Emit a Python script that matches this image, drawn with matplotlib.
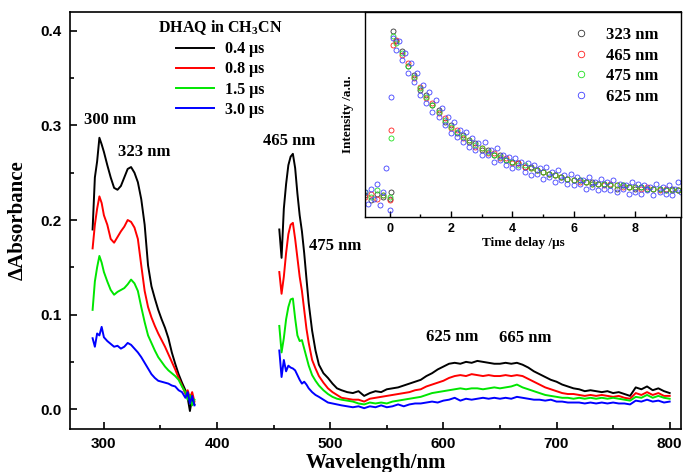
import numpy as np
import matplotlib
matplotlib.use('Agg')
import matplotlib.pyplot as plt
from matplotlib import rc, rcParams
from matplotlib.ticker import MultipleLocator

# Transient absorption of DHAQ in CH3CN with decay-trace inset.

# Plot setup {{{
rcParams['font.family'] = 'Liberation Serif'
rcParams['font.weight'] = 'bold'
rcParams['mathtext.fontset'] = 'custom'
rcParams['mathtext.rm'] = 'Liberation Serif:bold'
rcParams['mathtext.bf'] = 'Liberation Serif:bold'
rcParams['mathtext.it'] = 'Liberation Serif:bold'
rc('axes', linewidth=1.2)
#}}}

# Main spectra {{{
uv_wl = [290, 292, 294, 296, 298, 300, 303, 306, 309, 312, 315, 318, 321, 324, 327,
         330, 333, 336, 339, 342, 345, 348, 351, 354, 357, 360, 363, 366, 369, 372,
         374, 376, 378, 380]
vis_wl = [455, 457, 459, 461, 463, 465, 467, 469, 471, 473, 475, 477, 479, 481, 484,
          487, 490, 494, 498, 502, 506, 510,
          515, 520, 525, 530, 535, 540, 545, 550, 555, 560,
          565, 570, 575, 580, 585, 590, 595, 600, 605, 610,
          615, 620, 625, 630, 635, 640, 645, 650, 655, 660,
          665, 670, 675, 680, 685, 690, 695, 700, 705, 710,
          715, 720, 725, 730, 735, 740, 745, 750, 755, 760,
          765, 770, 775, 780, 785, 790, 795, 800]

uv_04 = [0.190, 0.245, 0.262, 0.287, 0.280, 0.272, 0.258, 0.245, 0.234, 0.232, 0.236,
         0.245, 0.254, 0.256, 0.250, 0.240, 0.222, 0.195, 0.152, 0.130, 0.117, 0.105,
         0.095, 0.086, 0.075, 0.060, 0.048, 0.037, 0.028, 0.020, 0.012, -0.002, 0.012, 0.005]
uv_08 = [0.170, 0.195, 0.212, 0.225, 0.218, 0.205, 0.195, 0.180, 0.176, 0.182, 0.188,
         0.193, 0.200, 0.198, 0.192, 0.180, 0.152, 0.125, 0.108, 0.097, 0.088, 0.080,
         0.073, 0.066, 0.058, 0.050, 0.042, 0.033, 0.025, 0.016, 0.020, 0.012, 0.018, 0.008]
uv_15 = [0.105, 0.135, 0.150, 0.162, 0.155, 0.145, 0.135, 0.126, 0.121, 0.124, 0.126,
         0.128, 0.132, 0.137, 0.133, 0.125, 0.108, 0.092, 0.078, 0.070, 0.062, 0.055,
         0.050, 0.045, 0.041, 0.038, 0.035, 0.031, 0.024, 0.018, 0.010, 0.015, 0.004, 0.010]
uv_30 = [0.075, 0.066, 0.080, 0.078, 0.087, 0.076, 0.072, 0.069, 0.066, 0.067, 0.064,
         0.066, 0.070, 0.068, 0.064, 0.060, 0.055, 0.049, 0.043, 0.037, 0.033, 0.030,
         0.029, 0.028, 0.027, 0.025, 0.024, 0.020, 0.018, 0.012, 0.018, 0.006, 0.014, 0.004]

vis_04 = [0.190, 0.160, 0.212, 0.238, 0.258, 0.267, 0.270, 0.255, 0.228, 0.205, 0.188,
          0.165, 0.138, 0.112, 0.083, 0.062, 0.047, 0.038, 0.033, 0.027, 0.022, 0.020,
          0.018, 0.017, 0.019, 0.014, 0.017, 0.019, 0.018, 0.021, 0.022, 0.023,
          0.025, 0.027, 0.029, 0.031, 0.035, 0.038, 0.042, 0.045, 0.048, 0.049,
          0.048, 0.050, 0.049, 0.051, 0.050, 0.049, 0.048, 0.048, 0.049, 0.048,
          0.049, 0.047, 0.044, 0.040, 0.037, 0.034, 0.031, 0.029, 0.026, 0.024,
          0.022, 0.021, 0.019, 0.020, 0.019, 0.018, 0.019, 0.017, 0.018, 0.016,
          0.014, 0.023, 0.021, 0.024, 0.020, 0.022, 0.019, 0.017]
vis_08 = [0.145, 0.122, 0.140, 0.165, 0.185, 0.195, 0.197, 0.180, 0.160, 0.140, 0.125,
          0.105, 0.085, 0.070, 0.052, 0.043, 0.035, 0.028, 0.022, 0.018, 0.015, 0.012,
          0.011, 0.010, 0.010, 0.008, 0.011, 0.012, 0.013, 0.014, 0.015, 0.016,
          0.017, 0.018, 0.020, 0.021, 0.024, 0.026, 0.028, 0.030, 0.033, 0.035,
          0.036, 0.035, 0.037, 0.036, 0.035, 0.036, 0.035, 0.035, 0.036, 0.035,
          0.036, 0.035, 0.032, 0.029, 0.026, 0.023, 0.021, 0.019, 0.017, 0.016,
          0.016, 0.015, 0.014, 0.015, 0.014, 0.015, 0.014, 0.013, 0.014, 0.012,
          0.011, 0.017, 0.015, 0.018, 0.015, 0.017, 0.014, 0.014]
vis_15 = [0.088, 0.060, 0.075, 0.095, 0.108, 0.116, 0.117, 0.096, 0.078, 0.072, 0.073,
          0.064, 0.055, 0.046, 0.036, 0.030, 0.025, 0.020, 0.016, 0.013, 0.011, 0.010,
          0.009, 0.008, 0.006, 0.005, 0.007, 0.006, 0.007, 0.006, 0.008, 0.009,
          0.010, 0.011, 0.012, 0.013, 0.015, 0.017, 0.018, 0.019, 0.020, 0.021,
          0.022, 0.021, 0.022, 0.022, 0.021, 0.022, 0.023, 0.022, 0.023, 0.024,
          0.026, 0.023, 0.021, 0.019, 0.017, 0.015, 0.014, 0.013, 0.012, 0.012,
          0.011, 0.012, 0.011, 0.012, 0.011, 0.012, 0.011, 0.012, 0.011, 0.010,
          0.009, 0.013, 0.012, 0.015, 0.012, 0.014, 0.012, 0.011]
vis_30 = [0.062, 0.034, 0.052, 0.040, 0.046, 0.044, 0.043, 0.041, 0.036, 0.031, 0.027,
          0.029, 0.026, 0.022, 0.018, 0.015, 0.013, 0.010, 0.007, 0.006, 0.005, 0.004,
          0.003, 0.002, 0.003, 0.001, 0.003, 0.002, 0.004, 0.002, 0.003, 0.005,
          0.003, 0.005, 0.006, 0.006, 0.007, 0.008, 0.007, 0.009, 0.010, 0.012,
          0.009, 0.011, 0.010, 0.011, 0.012, 0.011, 0.012, 0.011, 0.012, 0.011,
          0.013, 0.012, 0.011, 0.010, 0.010, 0.009, 0.010, 0.008, 0.008, 0.007,
          0.007, 0.007, 0.006, 0.007, 0.006, 0.007, 0.006, 0.007, 0.006, 0.006,
          0.005, 0.009, 0.008, 0.010, 0.008, 0.009, 0.007, 0.008]

delays = ['0.4 μs', '0.8 μs', '1.5 μs', '3.0 μs']
colors = ['black', '#ff0000', '#00e600', '#0000ff']
uv_all = [uv_04, uv_08, uv_15, uv_30]
vis_all = [vis_04, vis_08, vis_15, vis_30]

peak_labels = ['300 nm', '323 nm', '465 nm', '475 nm', '625 nm', '665 nm']
peak_x = [305, 336, 464, 504, 608, 672]
peak_y = [0.306, 0.272, 0.284, 0.173, 0.076, 0.075]
#}}}

# Inset kinetics {{{
blue_t = [-0.8, -0.7, -0.6, -0.5, -0.4, -0.3, -0.2, -0.1, 0.0, 0.05,
          0.1, 0.2, 0.3, 0.4, 0.5, 0.6, 0.7, 0.8, 0.9, 1.0,
          1.1, 1.2, 1.3, 1.4, 1.5, 1.6, 1.7, 1.8, 1.9, 2.0,
          2.1, 2.2, 2.3, 2.4, 2.5, 2.6, 2.7, 2.8, 2.9, 3.0,
          3.1, 3.2, 3.3, 3.4, 3.5, 3.6, 3.7, 3.8, 3.9, 4.0,
          4.1, 4.2, 4.3, 4.4, 4.5, 4.6, 4.7, 4.8, 4.9, 5.0,
          5.1, 5.2, 5.3, 5.4, 5.5, 5.6, 5.7, 5.8, 5.9, 6.0,
          6.1, 6.2, 6.3, 6.4, 6.5, 6.6, 6.7, 6.8, 6.9, 7.0,
          7.1, 7.2, 7.3, 7.4, 7.5, 7.6, 7.7, 7.8, 7.9, 8.0,
          8.1, 8.2, 8.3, 8.4, 8.5, 8.6, 8.7, 8.8, 8.9, 9.0,
          9.1, 9.2, 9.3, 9.4, 9.5]
blue_y = [0.05, -0.02, 0.07, 0.01, 0.10, -0.03, 0.05, 0.19, -0.06, 0.62,
          0.97, 0.90, 0.95, 0.84, 0.88, 0.76, 0.82, 0.71, 0.76, 0.63,
          0.69, 0.58, 0.65, 0.53, 0.60, 0.50, 0.55, 0.45, 0.50, 0.40,
          0.47, 0.38, 0.42, 0.35, 0.41, 0.32, 0.37, 0.30, 0.34, 0.27,
          0.35, 0.27, 0.30, 0.23, 0.31, 0.24, 0.27, 0.21, 0.26, 0.19,
          0.25, 0.20, 0.23, 0.17, 0.22, 0.15, 0.21, 0.16, 0.19, 0.13,
          0.20, 0.14, 0.17, 0.11, 0.18, 0.12, 0.15, 0.10, 0.16, 0.09,
          0.14, 0.10, 0.12, 0.07, 0.14, 0.08, 0.11, 0.06, 0.13, 0.07,
          0.11, 0.06, 0.12, 0.05, 0.10, 0.07, 0.09, 0.04, 0.11, 0.05,
          0.10, 0.04, 0.09, 0.06, 0.08, 0.03, 0.10, 0.05, 0.08, 0.04,
          0.09, 0.03, 0.07, 0.11, 0.05]

kin_t = [-0.8, -0.6, -0.4, -0.2, 0.0, 0.05, 0.1,
         0.2, 0.4, 0.6, 0.8, 1.0, 1.2, 1.4, 1.6, 1.8, 2.0,
         2.2, 2.4, 2.6, 2.8, 3.0, 3.2, 3.4, 3.6, 3.8, 4.0,
         4.2, 4.4, 4.6, 4.8, 5.0, 5.2, 5.4, 5.6, 5.8, 6.0,
         6.2, 6.4, 6.6, 6.8, 7.0, 7.2, 7.4, 7.6, 7.8, 8.0,
         8.2, 8.4, 8.6, 8.8, 9.0, 9.2, 9.4]
black_y = [0.03, 0.00, 0.04, 0.02, 0.01, 0.05, 1.01,
           0.95, 0.89, 0.80, 0.75, 0.66, 0.63, 0.57, 0.54, 0.47, 0.45,
           0.40, 0.39, 0.35, 0.34, 0.30, 0.30, 0.27, 0.27, 0.24, 0.23,
           0.22, 0.20, 0.20, 0.18, 0.17, 0.16, 0.15, 0.14, 0.13, 0.12,
           0.12, 0.11, 0.11, 0.10, 0.10, 0.09, 0.07, 0.09, 0.08, 0.07,
           0.08, 0.07, 0.07, 0.07, 0.06, 0.07, 0.06]
red_y = [0.02, 0.04, 0.01, 0.03, 0.00, 0.42, 0.93,
         0.96, 0.87, 0.82, 0.73, 0.68, 0.61, 0.58, 0.52, 0.49, 0.43,
         0.42, 0.37, 0.36, 0.32, 0.31, 0.28, 0.28, 0.25, 0.25, 0.22,
         0.22, 0.20, 0.19, 0.18, 0.17, 0.16, 0.15, 0.14, 0.13, 0.12,
         0.11, 0.11, 0.10, 0.10, 0.09, 0.10, 0.09, 0.08, 0.08, 0.08,
         0.07, 0.08, 0.07, 0.06, 0.07, 0.06, 0.06]
green_y = [0.05, 0.02, 0.06, 0.03, 0.02, 0.37, 0.98,
           0.94, 0.88, 0.80, 0.74, 0.67, 0.62, 0.57, 0.53, 0.48, 0.44,
           0.41, 0.38, 0.36, 0.33, 0.31, 0.29, 0.27, 0.26, 0.24, 0.23,
           0.21, 0.21, 0.19, 0.18, 0.17, 0.16, 0.15, 0.14, 0.13, 0.12,
           0.12, 0.11, 0.10, 0.10, 0.10, 0.09, 0.09, 0.09, 0.08, 0.08,
           0.08, 0.07, 0.07, 0.07, 0.06, 0.06, 0.06]
probe_labels = ['323 nm', '465 nm', '475 nm', '625 nm']
#}}}

fig = plt.figure(figsize=(6.84, 4.72), dpi=100)
ax = fig.add_axes([0.1023, 0.0911, 0.8933, 0.8835])

for i in range(4):
    ax.plot(uv_wl, uv_all[i], color=colors[i], lw=1.4, label=delays[i])
    ax.plot(vis_wl, vis_all[i], color=colors[i], lw=1.4)

for lab, x, y in zip(peak_labels, peak_x, peak_y):
    ax.text(x, y, lab, ha='center', va='center', fontsize=12, fontweight='bold')

ax.set_xlim(270, 810)
ax.set_ylim(-0.021, 0.42)
ax.xaxis.set_major_locator(MultipleLocator(100))
ax.xaxis.set_minor_locator(MultipleLocator(50))
ax.yaxis.set_major_locator(MultipleLocator(0.1))
ax.yaxis.set_minor_locator(MultipleLocator(0.05))
ax.tick_params(which='both', direction='in', width=1.2, labelsize=11)
ax.tick_params(which='major', length=5)
ax.tick_params(which='minor', length=3)
ax.tick_params(axis='x', pad=6)
ax.tick_params(axis='y', pad=6)
for t in ax.get_xticklabels() + ax.get_yticklabels():
    t.set_family('Liberation Sans')
    t.set_weight('bold')
ax.set_xlabel('Wavelength/nm', fontsize=15, fontweight='bold', labelpad=1)
ax.set_ylabel('ΔAbsorbance', fontsize=15, fontweight='bold', labelpad=9)

leg = ax.legend(title=r'DHAQ in CH$_{3}$CN', loc='upper center',
                bbox_to_anchor=(0.2455, 1.02), frameon=False,
                prop={'family': 'Liberation Serif', 'weight': 'bold', 'size': 11.5},
                title_fontproperties={'family': 'Liberation Serif', 'weight': 'bold', 'size': 11.5},
                handlelength=2.4, handletextpad=0.7, labelspacing=0.27)

# Inset {{{
axin = fig.add_axes([0.5336, 0.5403, 0.4620, 0.4343])
ms = dict(marker='o', ls='none', mfc='none', ms=3.6, mew=0.6)
axin.plot(kin_t, black_y, color='#333333', label=probe_labels[0], **ms)
axin.plot(kin_t, red_y, color='#ff2020', label=probe_labels[1], **ms)
axin.plot(kin_t, green_y, color='#20e020', label=probe_labels[2], **ms)
axin.plot(blue_t, blue_y, color='#4040ff', label=probe_labels[3], **ms)
axin.set_xlim(-0.8, 9.5)
axin.set_ylim(-0.10, 1.126)
axin.set_yticks([])
axin.xaxis.set_major_locator(MultipleLocator(2))
axin.xaxis.set_minor_locator(MultipleLocator(1))
axin.tick_params(which='both', direction='in', width=1.0, labelsize=9, pad=4)
axin.tick_params(which='major', length=4)
axin.tick_params(which='minor', length=2)
for t in axin.get_xticklabels():
    t.set_family('Liberation Sans')
    t.set_weight('bold')
for s in axin.spines.values():
    s.set_linewidth(1.0)
axin.set_xlabel('Time delay /μs', fontsize=9.5, fontweight='bold', labelpad=2)
axin.set_ylabel('Intensity /a.u.', fontsize=9.5, fontweight='bold', labelpad=8)
axin.legend(loc='upper right', bbox_to_anchor=(0.975, 1.0), frameon=False,
            prop={'family': 'Liberation Serif', 'weight': 'bold', 'size': 12},
            handletextpad=0.5, labelspacing=0.28, markerscale=1.3)
#}}}

plt.savefig('out.png', dpi=100)
